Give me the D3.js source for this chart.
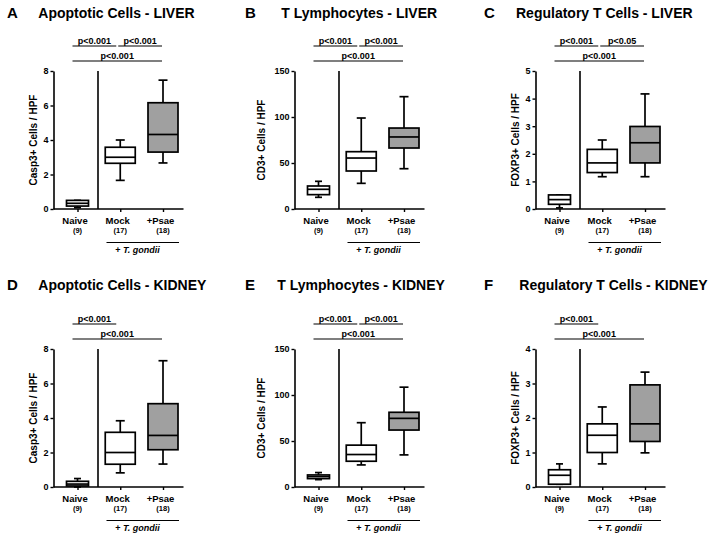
<!DOCTYPE html>
<html>
<head>
<meta charset="utf-8">
<script src="https://cdn.jsdelivr.net/npm/d3@7"></script>
<style>
  html, body { margin: 0; padding: 0; background: #fff; }
  svg { display: block; font-family: "Liberation Sans", Arial, Helvetica, sans-serif; }
</style>
</head>
<body>
<svg id="chart" width="714" height="535"></svg>
<script>
// ---------- DATA ----------
const panelLetters = ["A", "B", "C", "D", "E", "F"];
const panelTitles = [
  "Apoptotic Cells - LIVER", "T Lymphocytes - LIVER", "Regulatory T Cells - LIVER",
  "Apoptotic Cells - KIDNEY", "T Lymphocytes - KIDNEY", "Regulatory T Cells - KIDNEY"
];
const yAxisLabels = [
  "Casp3+ Cells / HPF", "CD3+ Cells / HPF", "FOXP3+ Cells / HPF",
  "Casp3+ Cells / HPF", "CD3+ Cells / HPF", "FOXP3+ Cells / HPF"
];
const groups = ["Naive", "Mock", "+Psae"];
const groupCounts = ["(9)", "(17)", "(18)"];

const yMaxima = [8, 150, 5, 8, 150, 4];
const ticksApoptotic = [0, 2, 4, 6, 8];
const ticksCD3 = [0, 50, 100, 150];
const ticksFoxp3Liver = [0, 1, 2, 3, 4, 5];
const ticksFoxp3Kidney = [0, 1, 2, 3, 4];

// box statistics per group: [min, q1, median, q3, max]
const apoptoticLiver = [
  [0.08, 0.17, 0.33, 0.5, 0.5],
  [1.66, 2.65, 3.0, 3.58, 4.0],
  [2.67, 3.3, 4.32, 6.16, 7.47]
];
const cd3Liver = [
  [12.7, 15.6, 21.4, 25.0, 30.1],
  [27.9, 41.3, 55.4, 62.3, 98.9],
  [43.8, 66.3, 78.3, 88.0, 122.1]
];
const foxp3Liver = [
  [0.04, 0.17, 0.34, 0.51, 0.51],
  [1.17, 1.32, 1.67, 2.16, 2.5],
  [1.17, 1.67, 2.4, 2.99, 4.17]
];
const apoptoticKidney = [
  [0.0, 0.06, 0.17, 0.33, 0.49],
  [0.82, 1.32, 2.0, 3.17, 3.84],
  [1.33, 2.16, 2.99, 4.83, 7.32]
];
const cd3Kidney = [
  [8.0, 9.1, 11.3, 13.1, 15.7],
  [24.0, 28.0, 35.3, 45.5, 69.9],
  [34.9, 61.9, 74.6, 81.2, 108.5]
];
const foxp3Kidney = [
  [0.08, 0.08, 0.34, 0.5, 0.67],
  [0.67, 1.0, 1.5, 1.83, 2.32],
  [0.99, 1.32, 1.83, 2.96, 3.33]
];

// significance brackets: [from group, to group, label]
const sigLiver = [["Naive", "Mock", "p<0.001"], ["Mock", "+Psae", "p<0.001"], ["Naive", "+Psae", "p<0.001"]];
const sigFoxp3Liver = [["Naive", "Mock", "p<0.001"], ["Mock", "+Psae", "p<0.05"], ["Naive", "+Psae", "p<0.001"]];
const sigTwo = [["Naive", "Mock", "p<0.001"], ["Naive", "+Psae", "p<0.001"]];

const panelData = [apoptoticLiver, cd3Liver, foxp3Liver, apoptoticKidney, cd3Kidney, foxp3Kidney];
const panelTicks = [ticksApoptotic, ticksCD3, ticksFoxp3Liver, ticksApoptotic, ticksCD3, ticksFoxp3Kidney];
const panelSig = [sigLiver, sigLiver, sigFoxp3Liver, sigTwo, sigLiver, sigTwo];

// ---------- LAYOUT ----------
const svg = d3.select("#chart");
const axisXs = [53.5, 294.5, 535.5];
const rowTops = [71, 349];
const plotH = 138;
const axisLen = 130;
const titleStarts = [38.3, 281.3, 516, 38.3, 277.3, 519.3];
const titleBaselines = [18, 289.5];
const letterXs = [7, 245, 484];
const ylabOffsets = [-17, -30, -17, -17, -30, -17];
const grey = "#a0a0a0";

panelLetters.forEach((letter, i) => {
  const col = i % 3, row = Math.floor(i / 3);
  const ax = axisXs[col];
  const top = rowTops[row];
  const bottom = top + plotH;
  const g = svg.append("g");

  // titles
  g.append("text").attr("x", letterXs[col]).attr("y", titleBaselines[row])
    .attr("font-size", 15).attr("font-weight", "bold").text(letter);
  g.append("text").attr("x", titleStarts[i]).attr("y", titleBaselines[row])
    .attr("font-size", 14).attr("font-weight", "bold").text(panelTitles[i]);

  const y = d3.scaleLinear().domain([0, yMaxima[i]]).range([bottom, top]);
  const x = d3.scalePoint().domain(groups).range([ax + 24, ax + 109.5]);
  const boxW = { "Naive": 22, "Mock": 30, "+Psae": 30 };
  const capW = { "Naive": 7, "Mock": 9, "+Psae": 9 };

  // y axis
  const yAxis = d3.axisLeft(y).tickValues(panelTicks[i]).tickFormat(d3.format("d"))
    .tickSize(3).tickSizeOuter(0).tickPadding(2);
  const yg = g.append("g").attr("transform", `translate(${ax},0)`).call(yAxis);
  yg.select(".domain").attr("stroke", "#000").attr("stroke-width", 1.6);
  yg.selectAll(".tick line").attr("stroke", "#000").attr("stroke-width", 1.4);
  yg.selectAll(".tick text").attr("font-size", 9).attr("font-weight", "bold")
    .attr("font-family", "Liberation Sans, Arial, sans-serif").attr("fill", "#000");

  // x axis
  g.append("line").attr("x1", ax).attr("x2", ax + axisLen).attr("y1", bottom).attr("y2", bottom)
    .attr("stroke", "#000").attr("stroke-width", 1.6);
  const xAxis = d3.axisBottom(x).tickSize(3).tickFormat("");
  const xg = g.append("g").attr("transform", `translate(0,${bottom})`).call(xAxis);
  xg.select(".domain").remove();
  xg.selectAll(".tick line").attr("stroke", "#000").attr("stroke-width", 1.4);

  // separator
  g.append("line").attr("x1", ax + 44.5).attr("x2", ax + 44.5).attr("y1", top).attr("y2", bottom)
    .attr("stroke", "#000").attr("stroke-width", 1.6);

  // y label
  g.append("text")
    .attr("transform", `translate(${ax + ylabOffsets[i]},${(top + bottom) / 2}) rotate(-90)`)
    .attr("text-anchor", "middle").attr("font-size", 10).attr("font-weight", "bold")
    .text(yAxisLabels[i]);

  // x labels
  groups.forEach((grp, k) => {
    g.append("text").attr("x", x(grp) - 2.5).attr("y", bottom + 14.5)
      .attr("text-anchor", "middle").attr("font-size", 9.5).attr("font-weight", "bold").text(grp);
    g.append("text").attr("x", x(grp)).attr("y", bottom + 24)
      .attr("text-anchor", "middle").attr("font-size", 7.5).attr("font-weight", "bold").text(groupCounts[k]);
  });

  // T. gondii bracket
  g.append("line").attr("x1", ax + 53).attr("x2", ax + 125.5).attr("y1", bottom + 33.5).attr("y2", bottom + 33.5)
    .attr("stroke", "#000").attr("stroke-width", 1.2);
  const tg = g.append("text").attr("x", ax + 84).attr("y", bottom + 43.5)
    .attr("text-anchor", "middle").attr("font-size", 9).attr("font-weight", "bold");
  tg.append("tspan").text("+ ");
  tg.append("tspan").attr("font-style", "italic").text("T. gondii");

  // boxes
  panelData[i].forEach((st, k) => {
    const grp = groups[k];
    const cx = x(grp), w = boxW[grp], cw = capW[grp];
    const [mn, q1, md, q3, mx] = st;
    const bg = g.append("g").attr("stroke", "#000").attr("stroke-width", 1.7);
    bg.append("line").attr("x1", cx).attr("x2", cx).attr("y1", y(mx)).attr("y2", y(q3));
    bg.append("line").attr("x1", cx).attr("x2", cx).attr("y1", y(q1)).attr("y2", y(mn));
    bg.append("line").attr("x1", cx - cw / 2).attr("x2", cx + cw / 2).attr("y1", y(mx)).attr("y2", y(mx));
    bg.append("line").attr("x1", cx - cw / 2).attr("x2", cx + cw / 2).attr("y1", y(mn)).attr("y2", y(mn));
    bg.append("rect").attr("x", cx - w / 2).attr("width", w).attr("y", y(q3)).attr("height", y(q1) - y(q3))
      .attr("fill", grp === "+Psae" ? grey : "#fff");
    bg.append("line").attr("x1", cx - w / 2).attr("x2", cx + w / 2).attr("y1", y(md)).attr("y2", y(md));
  });

  // significance brackets
  const lineY1 = top - 25, lineY2 = top - 10;
  panelSig[i].forEach(([a, b, lab]) => {
    const wide = (a === "Naive" && b === "+Psae");
    let x1, x2, ly;
    if (wide) { x1 = x(a) - 5; x2 = x(b) - 1; ly = lineY2; }
    else if (a === "Naive") { x1 = x(a) - 5; x2 = x(b) - 4; ly = lineY1; }
    else { x1 = x(a) - 2; x2 = x(b) - 1; ly = lineY1; }
    g.append("line").attr("x1", x1).attr("x2", x2).attr("y1", ly).attr("y2", ly)
      .attr("stroke", "#000").attr("stroke-width", 1.2);
    g.append("text").attr("x", (x1 + x2) / 2).attr("y", ly - 2.5)
      .attr("text-anchor", "middle").attr("font-size", 9).attr("font-weight", "bold").text(lab);
  });
});
</script>
</body>
</html>
